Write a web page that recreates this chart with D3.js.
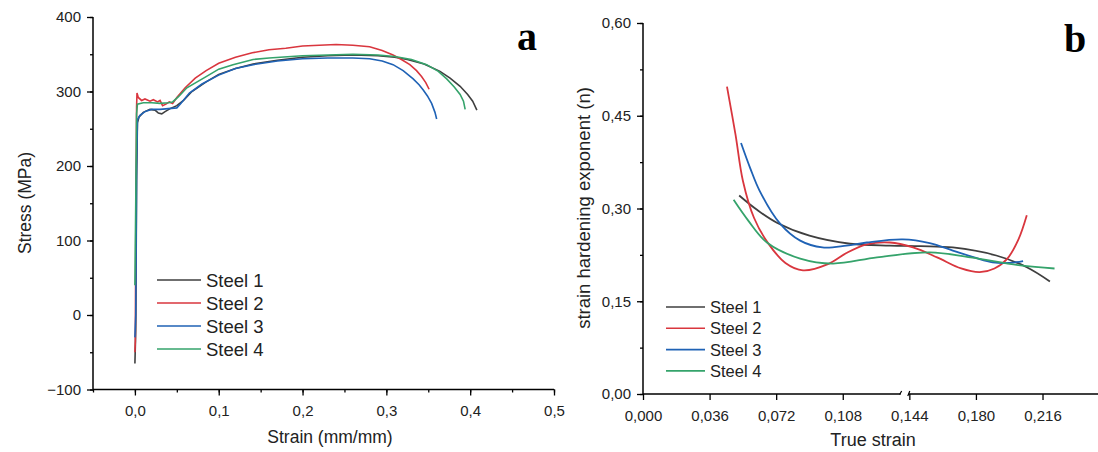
<!DOCTYPE html>
<html>
<head>
<meta charset="utf-8">
<script src="https://cdn.jsdelivr.net/npm/d3@7"></script>
<style>
  body { margin: 0; background: #fff; }
  text { font-family: Arial, "Liberation Sans", sans-serif; fill: #222; }
  .tag { font-family: "Times New Roman", "Liberation Serif", serif; font-weight: bold; fill: #000; }
</style>
</head>
<body>
<div id="chart"></div>
<script>
// ---- data: panel a (engineering stress-strain) ----
var seriesNames = ["Steel 1", "Steel 2", "Steel 3", "Steel 4"];
var seriesColors = ["#3f3f3f", "#d9363e", "#1f62b5", "#35a36b"];

var steel1Stress = [[0,-65],[0.001,-20],[0.002,180],[0.003,258],[0.005,266],[0.01,272],[0.018,276],[0.024,275],[0.028,271],[0.032,270],[0.036,273],[0.042,277],[0.05,281],[0.058,288],[0.068,300],[0.085,313],[0.1,323],[0.12,331],[0.141,337],[0.17,342],[0.2,346],[0.23,348],[0.26,349],[0.29,348],[0.31,346],[0.325,343],[0.345,337],[0.364,327],[0.376,318],[0.388,307],[0.397,296],[0.403,287],[0.408,275]];
var steel2Stress = [[0,-50],[0.0005,-35],[0.001,100],[0.002,280],[0.0025,298],[0.004,292],[0.008,288],[0.012,290],[0.018,287],[0.022,289],[0.027,286],[0.03,288],[0.033,281],[0.037,283],[0.041,286],[0.045,284],[0.05,292],[0.06,305],[0.072,318],[0.085,328],[0.1,338],[0.12,346],[0.14,352],[0.16,356],[0.18,358],[0.2,361],[0.22,362],[0.24,363],[0.26,362],[0.28,360],[0.295,355],[0.308,349],[0.318,343],[0.328,336],[0.336,328],[0.342,320],[0.347,312],[0.351,303]];
var steel3Stress = [[0,-30],[0.001,0],[0.002,200],[0.003,262],[0.006,268],[0.012,273],[0.02,276],[0.03,276],[0.04,277],[0.05,278],[0.054,283],[0.065,298],[0.08,310],[0.1,322],[0.12,331],[0.141,336],[0.17,341],[0.2,344],[0.23,345],[0.26,345],[0.28,344],[0.295,341],[0.308,336],[0.32,328],[0.332,317],[0.339,309],[0.344,302],[0.349,294],[0.354,284],[0.358,272],[0.36,263]];
var steel4Stress = [[0,40],[0.001,150],[0.002,270],[0.003,283],[0.01,285],[0.02,285],[0.03,284],[0.04,285],[0.045,286],[0.052,293],[0.062,305],[0.085,320],[0.1,330],[0.117,336],[0.141,343],[0.16,345],[0.2,348],[0.23,349],[0.26,350],[0.29,349],[0.31,347],[0.33,343],[0.348,336],[0.362,327],[0.372,317],[0.381,306],[0.388,296],[0.392,287],[0.394,276]];

var strainTicksA = [0, 0.1, 0.2, 0.3, 0.4, 0.5];
var stressTicksA = [-100, 0, 100, 200, 300, 400];

// ---- data: panel b (strain hardening exponent) ----
var steel1N = [[0.052,0.321],[0.062,0.297],[0.0724,0.277],[0.09,0.256],[0.112,0.243],[0.1335,0.240],[0.15,0.239],[0.1675,0.237],[0.191,0.224],[0.2075,0.205],[0.22,0.182]];
var steel2N = [[0.0454,0.497],[0.05,0.42],[0.054,0.345],[0.06,0.285],[0.0676,0.244],[0.077,0.212],[0.0865,0.200],[0.1,0.210],[0.11,0.228],[0.121,0.242],[0.1335,0.245],[0.146,0.237],[0.159,0.221],[0.172,0.203],[0.182,0.197],[0.19,0.203],[0.197,0.219],[0.203,0.25],[0.2075,0.289]];
var steel3N = [[0.053,0.406],[0.058,0.365],[0.063,0.329],[0.074,0.276],[0.085,0.248],[0.097,0.237],[0.11,0.240],[0.121,0.245],[0.1405,0.250],[0.155,0.244],[0.1675,0.232],[0.18,0.220],[0.189,0.213],[0.198,0.212],[0.2055,0.215]];
var steel4N = [[0.049,0.314],[0.057,0.280],[0.067,0.245],[0.085,0.219],[0.1027,0.211],[0.1265,0.221],[0.155,0.229],[0.177,0.221],[0.204,0.208],[0.2225,0.203]];

var trueStrainTicks = [0, 0.036, 0.072, 0.108, 0.144, 0.180, 0.216];
var nTicks = [0, 0.15, 0.30, 0.45, 0.60];

var comma = function(fmt) { var f = d3.format(fmt); return function(d) { return f(d).replace(".", ",").replace("−", "-"); }; };

var svg = d3.select("#chart").append("svg")
    .attr("width", 1098)
    .attr("height", 452);

// ================= panel a =================
var xA = d3.scaleLinear().domain([-0.05, 0.5]).range([93, 554]);
var yA = d3.scaleLinear().domain([-100, 400]).range([389.5, 17]);

var gA = svg.append("g");

gA.append("g")
    .attr("transform", "translate(0," + yA(-100) + ")")
    .call(d3.axisBottom(xA).tickValues(d3.range(-0.05, 0.5001, 0.05)).tickSize(3).tickFormat(""))
    .call(function(g) { g.select(".domain").remove(); });
gA.append("g")
    .attr("transform", "translate(0," + yA(-100) + ")")
    .call(d3.axisBottom(xA).tickValues(strainTicksA).tickSize(6).tickPadding(10).tickFormat(comma(".1f")))
    .call(function(g) { g.select(".domain").attr("d", "M" + xA(-0.05) + ",0H" + xA(0.5)); });

gA.append("g")
    .attr("transform", "translate(" + xA(-0.05) + ",0)")
    .call(d3.axisLeft(yA).tickValues(d3.range(-100, 401, 50)).tickSize(3).tickFormat(""))
    .call(function(g) { g.select(".domain").remove(); });
gA.append("g")
    .attr("transform", "translate(" + xA(-0.05) + ",0)")
    .call(d3.axisLeft(yA).tickValues(stressTicksA).tickSize(6).tickPadding(6))
    .call(function(g) { g.select(".domain").attr("d", "M0," + yA(-100) + "V" + yA(400)); });

var lineA = d3.line().x(function(d) { return xA(d[0]); }).y(function(d) { return yA(d[1]); });
[steel1Stress, steel2Stress, steel3Stress, steel4Stress].forEach(function(s, i) {
    gA.append("path").datum(s)
        .attr("d", lineA)
        .attr("fill", "none")
        .attr("stroke", seriesColors[i])
        .attr("stroke-width", 1.6);
});

gA.append("text").attr("x", 330).attr("y", 443).attr("text-anchor", "middle")
    .style("font-size", "17.5px").text("Strain (mm/mm)");
gA.append("text").attr("transform", "translate(31,203) rotate(-90)").attr("text-anchor", "middle")
    .style("font-size", "17.5px").text("Stress (MPa)");
gA.append("text").attr("class", "tag").attr("x", 517).attr("y", 50).style("font-size", "40px").text("a");

var legA = gA.append("g");
seriesNames.forEach(function(name, i) {
    var yy = 280 + i * 23;
    legA.append("line").attr("x1", 157).attr("x2", 201).attr("y1", yy).attr("y2", yy)
        .attr("stroke", seriesColors[i]).attr("stroke-width", 1.6);
    legA.append("text").attr("x", 206).attr("y", yy + 6.5).style("font-size", "18.5px").text(name);
});

// ================= panel b =================
var xB = d3.scaleLinear().domain([0, 0.246]).range([643, 1098]);
var yB = d3.scaleLinear().domain([0, 0.6]).range([394, 23]);

var gB = svg.append("g");

var breakL = xB(0.1393), breakR = xB(0.1437);
gB.append("g")
    .attr("transform", "translate(0," + yB(0) + ")")
    .call(d3.axisBottom(xB).tickValues(trueStrainTicks).tickSize(6).tickPadding(10).tickFormat(comma(".3f")))
    .call(function(g) {
        g.select(".domain").attr("d", "M" + xB(0) + ",0H" + breakL + "M" + breakR + ",0H" + xB(0.246));
    });
gB.append("path")
    .attr("d", "M" + (breakL - 1) + ",0.5L" + (breakL + 1) + ",-3M" + (breakR - 1) + ",2L" + (breakR + 1) + ",-3")
    .attr("transform", "translate(0," + yB(0) + ")")
    .attr("stroke", "#000").attr("fill", "none").attr("stroke-width", 1.2);

gB.append("g")
    .attr("transform", "translate(" + xB(0) + ",0)")
    .call(d3.axisLeft(yB).tickValues(d3.range(0, 0.6001, 0.075)).tickSize(3).tickFormat(""))
    .call(function(g) { g.select(".domain").remove(); });
gB.append("g")
    .attr("transform", "translate(" + xB(0) + ",0)")
    .call(d3.axisLeft(yB).tickValues(nTicks).tickSize(6).tickPadding(6).tickFormat(comma(".2f")))
    .call(function(g) { g.select(".domain").attr("d", "M0," + yB(0) + "V" + yB(0.6)); });

var lineB = d3.line().curve(d3.curveCatmullRom.alpha(0.5))
    .x(function(d) { return xB(d[0]); }).y(function(d) { return yB(d[1]); });
[steel1N, steel2N, steel3N, steel4N].forEach(function(s, i) {
    gB.append("path").datum(s)
        .attr("d", lineB)
        .attr("fill", "none")
        .attr("stroke", seriesColors[i])
        .attr("stroke-width", 1.8);
});

gB.append("text").attr("x", 873).attr("y", 446).attr("text-anchor", "middle")
    .style("font-size", "18px").text("True strain");
gB.append("text").attr("transform", "translate(590,208) rotate(-90)").attr("text-anchor", "middle")
    .style("font-size", "18.5px").text("strain hardening exponent (n)");
gB.append("text").attr("class", "tag").attr("x", 1064).attr("y", 52).style("font-size", "40px").text("b");

var legB = gB.append("g");
seriesNames.forEach(function(name, i) {
    var yy = 307 + i * 21.3;
    legB.append("line").attr("x1", 666).attr("x2", 705).attr("y1", yy).attr("y2", yy)
        .attr("stroke", seriesColors[i]).attr("stroke-width", 1.6);
    legB.append("text").attr("x", 710).attr("y", yy + 6).style("font-size", "16.5px").text(name);
});

svg.selectAll(".tick text").style("font-size", "15px").attr("fill", "#222");
svg.selectAll(".domain").attr("stroke", "#000").attr("stroke-width", 1.5);
svg.selectAll(".tick line").attr("stroke", "#000").attr("stroke-width", 1.3);
</script>
</body>
</html>
